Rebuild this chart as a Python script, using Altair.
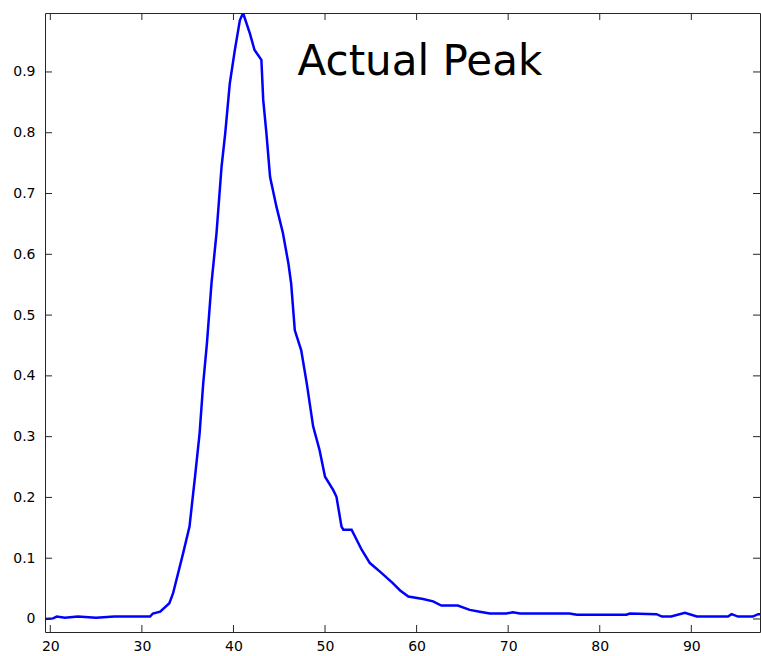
import altair as alt
import pandas as pd

# ---- data ----
x_vals = [19.4, 20.3, 20.7, 21.6, 23.0, 25.0, 27.0, 29.8, 30.9, 31.2, 32.0, 33.0, 33.4,
          34.5, 35.2, 35.8, 36.3, 36.7, 37.1, 37.6, 38.15, 38.7, 39.1, 39.6, 40.15, 40.7,
          41.05, 41.8, 42.3, 43.05, 43.25, 43.6, 44.0, 44.7, 45.4, 46.0, 46.3, 46.7, 47.4,
          48.0, 48.7, 49.4, 50.0, 50.9, 51.25, 51.8, 52.0, 52.9, 54.0, 54.9, 56.0, 57.4,
          58.2, 59.1, 60.7, 61.8, 62.7, 64.5, 65.8, 66.9, 68.0, 69.8, 70.5, 71.3, 76.7, 77.5,
          82.9, 83.3, 86.2, 86.8, 87.8, 89.3, 90.6, 94.0, 94.4, 95.1, 96.7, 97.3, 97.6]
y_vals = [0.0, 0.001, 0.004, 0.002, 0.004, 0.002, 0.004, 0.004, 0.004, 0.009, 0.012, 0.026, 0.042,
          0.108, 0.152, 0.234, 0.305, 0.388, 0.453, 0.552, 0.635, 0.744, 0.799, 0.881, 0.936, 0.985,
          0.997, 0.963, 0.936, 0.920, 0.854, 0.799, 0.727, 0.678, 0.635, 0.585, 0.552, 0.475, 0.442,
          0.388, 0.317, 0.278, 0.234, 0.212, 0.201, 0.152, 0.147, 0.147, 0.114, 0.092, 0.078, 0.059,
          0.047, 0.037, 0.033, 0.029, 0.022, 0.022, 0.015, 0.012, 0.009, 0.009, 0.011, 0.009, 0.009, 0.007,
          0.007, 0.009, 0.008, 0.004, 0.004, 0.010, 0.004, 0.004, 0.008, 0.004, 0.004, 0.008, 0.008]
x_ticks = [20, 30, 40, 50, 60, 70, 80, 90]
y_ticks = [0, 0.1, 0.2, 0.3, 0.4, 0.5, 0.6, 0.7, 0.8, 0.9]
ann_x = [47.0]
ann_y = [0.895]
ann_text = ["Actual Peak"]

X_DOMAIN = [19.42, 97.5]
Y_DOMAIN = [-0.0214, 0.997]
W, H = 715, 619
TICK = 7
FONT = "DejaVu Sans"
FRAME = "#262626"

curve = pd.DataFrame({"x": x_vals, "y": y_vals})
xt = pd.DataFrame({"x": x_ticks})
yt = pd.DataFrame({"y": y_ticks})
ann = pd.DataFrame({"x": ann_x, "y": ann_y, "label": ann_text})

xscale = alt.Scale(domain=X_DOMAIN, nice=False, zero=False)
yscale = alt.Scale(domain=Y_DOMAIN, nice=False, zero=False)
xaxis = alt.Axis(values=x_ticks, title=None, ticks=False, domain=False, grid=False,
                 labelFont=FONT, labelFontSize=14, labelColor="#000",
                 labelPadding=7, format="d")
yaxis = alt.Axis(values=y_ticks, title=None, ticks=False, domain=False, grid=False,
                 labelFont=FONT, labelFontSize=14, labelColor="#000",
                 labelPadding=10, format=".1~f")
X = alt.X("x:Q", scale=xscale, axis=xaxis)
Y = alt.Y("y:Q", scale=yscale, axis=yaxis)

line = alt.Chart(curve).mark_line(color="#0000FF", strokeWidth=2.5, clip=True).encode(x=X, y=Y)

tick_style = dict(color=FRAME, strokeWidth=1)
bottom_ticks = alt.Chart(xt).mark_rule(**tick_style).encode(
    x=X, y=alt.value(H), y2=alt.value(H - TICK))
top_ticks = alt.Chart(xt).mark_rule(**tick_style).encode(
    x=X, y=alt.value(0), y2=alt.value(TICK))
left_ticks = alt.Chart(yt).mark_rule(**tick_style).encode(
    y=Y, x=alt.value(0), x2=alt.value(TICK))
right_ticks = alt.Chart(yt).mark_rule(**tick_style).encode(
    y=Y, x=alt.value(W), x2=alt.value(W - TICK))

label = alt.Chart(ann).mark_text(font=FONT, fontSize=42, color="#000", align="left",
                                 baseline="alphabetic").encode(
    x=X, y=Y, text="label:N",
)

chart = alt.layer(line, bottom_ticks, top_ticks, left_ticks, right_ticks, label).properties(
    width=W, height=H,
    autosize=alt.AutoSizeParams(type="none"),
    padding={"left": 45, "top": 13, "right": 1, "bottom": 24},
    background="white",
).configure_view(stroke=FRAME, strokeWidth=1)

chart.save("out.html", embed_options={"renderer": "svg", "actions": False})
